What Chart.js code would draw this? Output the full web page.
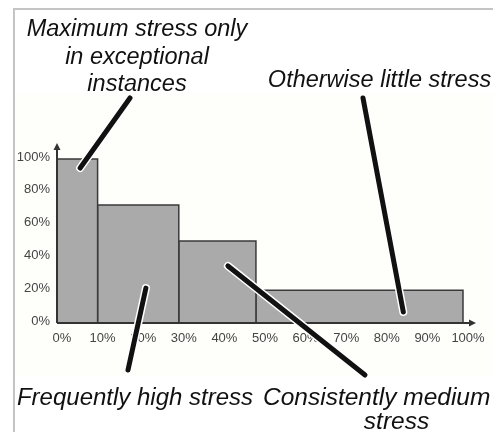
<!DOCTYPE html>
<html>
<head>
<meta charset="utf-8">
<script src="https://cdn.jsdelivr.net/npm/chart.js@4/dist/chart.umd.min.js"></script>
<style>
  html, body { margin: 0; padding: 0; background: #ffffff; }
  #wrap { width: 493px; height: 432px; }
</style>
</head>
<body>
<div id="wrap"><canvas id="c" width="493" height="432"></canvas></div>
<script>
// Share of time (%) – edges of each stress bin
const timeEdges = [0, 10, 30, 49, 100];
// Stress level (%) held within each bin
const stressLevels = [100, 72, 50, 20];
// Axis tick values
const xTickValues = [0, 10, 20, 30, 40, 50, 60, 70, 80, 90, 100];
const yTickValues = [0, 20, 40, 60, 80, 100];

// Callout texts and the point (in data units) each one points at
const calloutTexts = [
  ['Maximum stress only', 'in exceptional', 'instances'],
  ['Otherwise little stress'],
  ['Frequently high stress'],
  ['Consistently medium', 'stress']
];
const calloutTargets = [
  { x: 5.7, y: 94.5 },
  { x: 85.3, y: 6.7 },
  { x: 21.9, y: 21.3 },
  { x: 42.1, y: 34.8 }
];

// Layout of the callouts (pixels)
const calloutLayout = [
  { size: 23.5, lines: [{ x: 137, y: 36 }, { x: 137, y: 64 }, { x: 137, y: 91 }], align: 'center', from: { x: 130, y: 98 } },
  { size: 23.5, lines: [{ x: 379.5, y: 87 }], align: 'center', from: { x: 363, y: 98 } },
  { size: 24, lines: [{ x: 135, y: 405 }], align: 'center', from: { x: 128, y: 370 } },
  { size: 24.5, lines: [{ x: 263, y: 405, align: 'left' }, { x: 396.5, y: 429 }], align: 'center', from: { x: 365, y: 375 } }
];

const pct = v => v + '%';

// One closed rectangle per bin, drawn as a filled line dataset
const binDatasets = stressLevels.map((level, i) => ({
  data: [
    { x: timeEdges[i], y: 0 },
    { x: timeEdges[i], y: level },
    { x: timeEdges[i + 1], y: level },
    { x: timeEdges[i + 1], y: 0 }
  ],
  fill: 'origin',
  backgroundColor: '#aaaaaa',
  borderColor: '#3a3a3a',
  borderWidth: 1.5,
  pointRadius: 0,
  tension: 0,
  clip: 10
}));

const framePlugin = {
  id: 'frame',
  beforeDraw(chart) {
    const ctx = chart.ctx;
    ctx.save();
    ctx.fillStyle = '#ffffff';
    ctx.fillRect(0, 0, chart.width, chart.height);
    ctx.fillStyle = '#fefefb';
    ctx.fillRect(15, 93, chart.width - 15, 283);
    ctx.strokeStyle = '#c4c4c4';
    ctx.lineWidth = 2;
    ctx.beginPath();
    ctx.moveTo(14, chart.height);
    ctx.lineTo(14, 9);
    ctx.lineTo(chart.width, 9);
    ctx.stroke();
    ctx.restore();
  }
};

const axesPlugin = {
  id: 'arrowAxes',
  afterDatasetsDraw(chart) {
    const ctx = chart.ctx;
    const xs = chart.scales.x, ys = chart.scales.y;
    const x0 = xs.getPixelForValue(0);
    const y0 = ys.getPixelForValue(0);
    const yTop = ys.getPixelForValue(100) - 16;
    const xEnd = xs.getPixelForValue(100) + 13;
    ctx.save();
    ctx.strokeStyle = '#333333';
    ctx.fillStyle = '#333333';
    ctx.lineWidth = 2;
    ctx.beginPath();
    ctx.moveTo(x0, y0);
    ctx.lineTo(x0, yTop + 5);
    ctx.moveTo(x0, y0);
    ctx.lineTo(xEnd - 5, y0);
    ctx.stroke();
    ctx.beginPath();
    ctx.moveTo(x0, yTop);
    ctx.lineTo(x0 - 3.5, yTop + 7);
    ctx.lineTo(x0 + 3.5, yTop + 7);
    ctx.closePath();
    ctx.fill();
    ctx.beginPath();
    ctx.moveTo(xEnd, y0);
    ctx.lineTo(xEnd - 7, y0 - 3.5);
    ctx.lineTo(xEnd - 7, y0 + 3.5);
    ctx.closePath();
    ctx.fill();
    ctx.restore();
  }
};

const calloutPlugin = {
  id: 'callouts',
  afterDraw(chart) {
    const ctx = chart.ctx;
    const xs = chart.scales.x, ys = chart.scales.y;
    ctx.save();
    ctx.lineCap = 'round';
    calloutLayout.forEach((c, i) => {
      const t = calloutTargets[i];
      const tx = xs.getPixelForValue(t.x), ty = ys.getPixelForValue(t.y);
      ctx.beginPath();
      ctx.moveTo(c.from.x, c.from.y);
      ctx.lineTo(tx, ty);
      ctx.strokeStyle = '#ffffff';
      ctx.lineWidth = 8;
      ctx.stroke();
      ctx.strokeStyle = '#111111';
      ctx.lineWidth = 5;
      ctx.stroke();
    });
    ctx.fillStyle = '#111111';
    ctx.textBaseline = 'alphabetic';
    calloutLayout.forEach((c, i) => {
      ctx.font = 'italic ' + c.size + 'px "Liberation Sans", Arial, sans-serif';
      calloutTexts[i].forEach((line, j) => {
        const p = c.lines[j];
        ctx.textAlign = p.align || c.align;
        ctx.fillText(line, p.x, p.y);
      });
    });
    ctx.restore();
  }
};

const tickFont = { family: '"Liberation Sans", Arial, sans-serif', size: 13 };

new Chart(document.getElementById('c'), {
  type: 'line',
  data: { datasets: binDatasets },
  options: {
    responsive: false,
    devicePixelRatio: 1,
    animation: false,
    events: [],
    layout: { padding: { left: 0, right: 30, top: 159, bottom: 79 } },
    plugins: { legend: { display: false }, tooltip: { enabled: false } },
    scales: {
      x: {
        type: 'linear',
        min: 0,
        max: 100,
        afterBuildTicks: s => { s.ticks = xTickValues.map(v => ({ value: v })); },
        afterFit: s => { s.height = 30; },
        grid: { display: false, drawTicks: false },
        border: { display: false },
        ticks: { callback: pct, font: tickFont, color: '#444444', padding: 8, labelOffset: 5, maxRotation: 0, autoSkip: false }
      },
      y: {
        type: 'linear',
        min: 0,
        max: 100,
        afterBuildTicks: s => { s.ticks = yTickValues.map(v => ({ value: v })); },
        afterFit: s => { s.width = 57; },
        grid: { display: false, drawTicks: false },
        border: { display: false },
        ticks: { callback: pct, font: tickFont, color: '#444444', padding: 7, labelOffset: -2, autoSkip: false }
      }
    }
  },
  plugins: [framePlugin, axesPlugin, calloutPlugin]
});
</script>
</body>
</html>
